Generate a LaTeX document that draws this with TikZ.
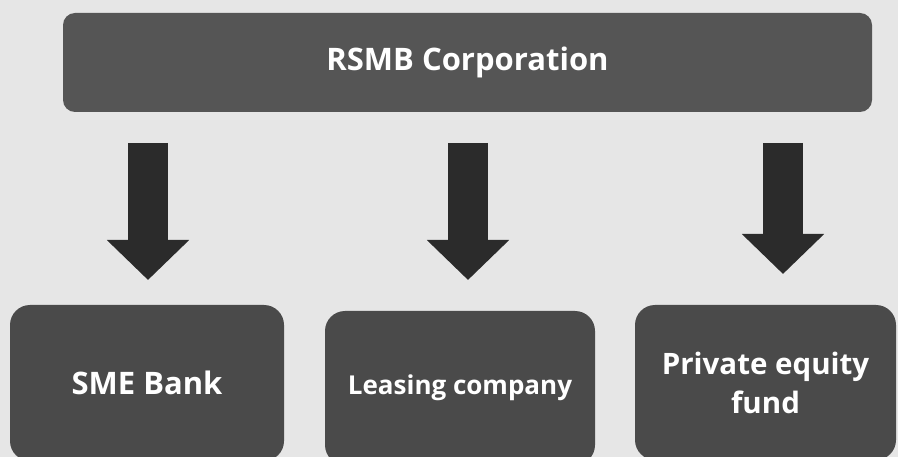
\documentclass[tikz,border=0pt]{standalone}
\usepackage{fontspec}
\setmainfont{Open Sans}
\usetikzlibrary{arrows.meta}
\definecolor{bgpaper}{HTML}{E6E6E6}
\definecolor{bargray}{HTML}{555555}
\definecolor{boxgray}{HTML}{4A4A4A}
\definecolor{arrowgray}{HTML}{2B2B2B}
\tikzset{
  unit/.style={rectangle,rounded corners=20pt,fill=boxgray,text=white,font=\bfseries\fontsize{31}{39}\selectfont,align=center,inner sep=0pt},
  bigarrow/.style={arrowgray,line width=40pt,-{Triangle[width=80pt,length=40pt]}}
}
\begin{document}
\begin{tikzpicture}[x=1pt,y=-1pt]
  \fill[bgpaper] (0,0) rectangle (898,457);
  \useasboundingbox (0,0) rectangle (898,457);
  \clip (0,0) rectangle (898,457);
  \node[unit,rounded corners=12pt,fill=bargray,minimum width=809pt,minimum height=99pt] (corp) at (467.5,62.5) {RSMB Corporation};
  \node[unit,minimum width=274pt,minimum height=156pt] (bank) at (147,383) {SME Bank};
  \node[unit,minimum width=270pt,minimum height=154pt,font=\bfseries\fontsize{26}{31}\selectfont] (lease) at (460,388) {Leasing company};
  \node[unit,minimum width=261pt,minimum height=155pt,font=\bfseries\fontsize{29.5}{39}\selectfont] (fund) at (765.5,382.5) {Private equity\\fund};
  \coordinate (a1) at (148,143);
  \coordinate (b1) at (148,280);
  \coordinate (a2) at (468,143);
  \coordinate (b2) at (468,280);
  \coordinate (a3) at (783,143);
  \coordinate (b3) at (783,274);
  \draw[bigarrow](a1)--(b1);
  \draw[bigarrow](a2)--(b2);
  \draw[bigarrow](a3)--(b3);
\end{tikzpicture}
\end{document}
